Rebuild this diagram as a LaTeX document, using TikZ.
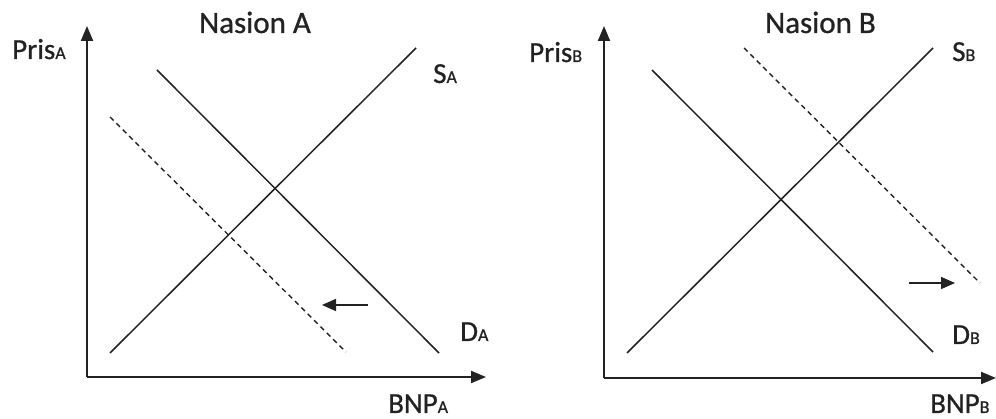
\documentclass[tikz,border=0pt]{standalone}
\usepackage{fontspec}
\setmainfont{Carlito}[FakeBold=0.8,BoldFont=Carlito]
\usetikzlibrary{arrows.meta}
\newcommand{\sub}[1]{{\fontsize{18}{18}\selectfont #1}}
\definecolor{ink}{HTML}{222222}
\begin{document}
\begin{tikzpicture}[x=1pt,y=-1pt,
  axisline/.style={draw=ink,line width=2pt,-{Triangle[length=15pt,width=12pt]}},
  curve/.style={draw=ink,line width=1.5pt},
  shifted/.style={draw=ink,line width=1.4pt,dash pattern=on 5pt off 4pt},
  shiftarrow/.style={draw=ink,line width=1.5pt,-{Triangle[length=14pt,width=12pt]}},
  lbl/.style={inner sep=0pt,anchor=base west,text=ink,font=\fontsize{29}{29}\selectfont\bfseries},
  ttl/.style={inner sep=0pt,anchor=base west,text=ink,font=\fontsize{31}{31}\selectfont\bfseries}]
\useasboundingbox (0,0) rectangle (996,419);
% ---------- Panel A ----------
\coordinate (oA) at (87,377);
\coordinate (yA) at (87,26);
\coordinate (xA) at (486,377);
\draw[axisline] (oA) -- (yA);
\draw[axisline] (oA) -- (xA);
\coordinate (sA1) at (110,353); \coordinate (sA2) at (416,48);
\coordinate (dA1) at (157,70);  \coordinate (dA2) at (439,353);
\coordinate (nA1) at (110,117); \coordinate (nA2) at (346,352);
\coordinate (aA1) at (368,305); \coordinate (aA2) at (322,305);
\draw[curve] (sA1) -- (sA2);
\draw[curve] (dA1) -- (dA2);
\draw[shifted] (nA1) -- (nA2);
\draw[shiftarrow] (aA1) -- (aA2);
\node[ttl] (tA) at (199,33) {Nasion A};
\node[lbl] (pA) at (12,59) {Pris\sub{A}};
\node[lbl] (SAl) at (433,83) {S\sub{A}};
\node[lbl] (DAl) at (460,341) {D\sub{A}};
\node[lbl] (bA) at (388,413) {BNP\sub{A}};
% ---------- Panel B ----------
\coordinate (oB) at (604,378);
\coordinate (yB) at (604,26);
\coordinate (xB) at (996,378);
\draw[axisline] (oB) -- (yB);
\draw[axisline] (oB) -- (xB);
\coordinate (sB1) at (627,353); \coordinate (sB2) at (933,48);
\coordinate (dB1) at (652,70);  \coordinate (dB2) at (933,352);
\coordinate (nB1) at (744,48);  \coordinate (nB2) at (980,283);
\coordinate (aB1) at (909,283); \coordinate (aB2) at (955,283);
\draw[curve] (sB1) -- (sB2);
\draw[curve] (dB1) -- (dB2);
\draw[shifted] (nB1) -- (nB2);
\draw[shiftarrow] (aB1) -- (aB2);
\node[ttl] (tB) at (765,33) {Nasion B};
\node[lbl] (pB) at (529,62) {Pris\sub{B}};
\node[lbl] (SBl) at (952,61) {S\sub{B}};
\node[lbl] (DBl) at (952,344) {D\sub{B}};
\node[lbl] (bB) at (930,413) {BNP\sub{B}};
\end{tikzpicture}
\end{document}
